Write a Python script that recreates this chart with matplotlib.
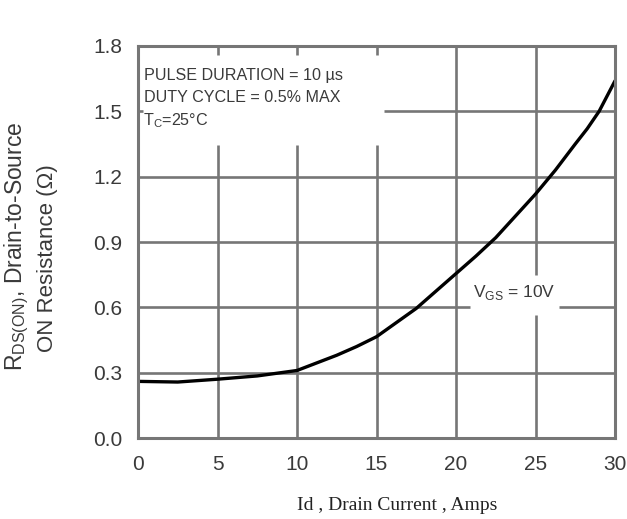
import matplotlib
matplotlib.use("Agg")
import matplotlib.pyplot as plt
from matplotlib import font_manager

# Data
drain_current = [0, 2.5, 5, 7.5, 10, 12.5, 13.75, 15, 16.25, 17.5, 18.75, 20, 21.25, 22.5, 23.75, 25, 26.25, 27.5, 28.25, 29, 30]
rds_on = [0.26, 0.257, 0.27, 0.285, 0.31, 0.38, 0.42, 0.465, 0.53, 0.595, 0.675, 0.755, 0.835, 0.92, 1.02, 1.12, 1.23, 1.35, 1.42, 1.50, 1.64]
x_ticks = [0, 5, 10, 15, 20, 25, 30]
x_tick_labels = ["0", "5", "10", "15", "20", "25", "30"]
y_ticks = [0.0, 0.3, 0.6, 0.9, 1.2, 1.5, 1.8]
y_tick_labels = ["0.0", "0.3", "0.6", "0.9", "1.2", "1.5", "1.8"]

names = {f.name for f in font_manager.fontManager.ttflist}
narrow = 'Liberation Sans Narrow' if 'Liberation Sans Narrow' in names else 'Liberation Sans'

plt.rcParams['font.family'] = ['Liberation Sans', 'DejaVu Sans']
grid_c = "#767676"
text_c = "#3a3a3a"

W, H = 627, 519
fig = plt.figure(figsize=(6.27, 5.19), dpi=100)
ax = fig.add_axes([138/W, 1 - 438/H, (615-138)/W, (438-46)/H])
ax.set_xlim(0, 30)
ax.set_ylim(0, 1.8)

lw = 1.9
# vertical grid lines (with gaps where text sits)
for xv in [5, 10, 15]:
    ax.plot([xv, xv], [0, 1.345], color=grid_c, lw=lw, solid_capstyle='butt')
    ax.plot([xv, xv], [1.76, 1.8], color=grid_c, lw=lw, solid_capstyle='butt')
ax.plot([20, 20], [0, 1.8], color=grid_c, lw=lw)
ax.plot([25, 25], [0, 0.565], color=grid_c, lw=lw, solid_capstyle='butt')
ax.plot([25, 25], [0.75, 1.8], color=grid_c, lw=lw, solid_capstyle='butt')
# horizontal grid lines
for yv in [0.3, 0.9, 1.2]:
    ax.plot([0, 30], [yv, yv], color=grid_c, lw=lw)
ax.plot([0, 20.9], [0.6, 0.6], color=grid_c, lw=lw, solid_capstyle='butt')
ax.plot([26.5, 30], [0.6, 0.6], color=grid_c, lw=lw, solid_capstyle='butt')
ax.plot([15.5, 30], [1.5, 1.5], color=grid_c, lw=lw, solid_capstyle='butt')
ax.plot([0, 0.3], [1.5, 1.5], color=grid_c, lw=lw, solid_capstyle='butt')

# curve
ax.plot(drain_current, rds_on, color="black", lw=2.4, solid_capstyle='round', solid_joinstyle='round')

for s in ax.spines.values():
    s.set_color(grid_c)
    s.set_linewidth(2.2)

ax.set_xticks(x_ticks)
ax.set_xticklabels(x_tick_labels)
ax.set_yticks(y_ticks)
ax.set_yticklabels(y_tick_labels)
ax.tick_params(axis='both', length=0, labelsize=15, colors=text_c)
ax.tick_params(axis='x', pad=12.5)
ax.tick_params(axis='y', pad=11.5)
for lab in ax.get_xticklabels() + ax.get_yticklabels():
    lab.set_family([narrow, 'Liberation Sans'])

box_fs = 11.6
ax.text(0.4, 1.645, "PULSE DURATION = 10 µs", fontsize=box_fs, color=text_c, va='baseline', ha='left')
ax.text(0.4, 1.543, "DUTY CYCLE = 0.5% MAX", fontsize=box_fs, color=text_c, va='baseline', ha='left')
ax.text(0.3, 1.438, r"T$_\mathregular{C}$=25°C", fontsize=box_fs, color=text_c, va='baseline', ha='left')
ax.text(21.1, 0.648, r"V$_\mathregular{GS}$ = 10V", fontsize=12.5, color=text_c, va='baseline', ha='left')

# y-axis title (two rotated lines)
fig.text(17/W, 1 - 246/H, r"R$_\mathregular{DS(ON)}$, Drain-to-Source", rotation=90,
         fontsize=16.5, color=text_c, ha='center', va='center')
fig.text(48/W, 1 - 258/H, "ON Resistance (Ω)", rotation=90,
         fontsize=16, color=text_c, ha='center', va='center')

# x-axis title
fig.text(397/W, 1 - 505/H, "Id , Drain Current , Amps", fontsize=14, color="#222222",
         family=['Liberation Serif'], ha='center', va='center')

fig.savefig("out.png", dpi=100)
